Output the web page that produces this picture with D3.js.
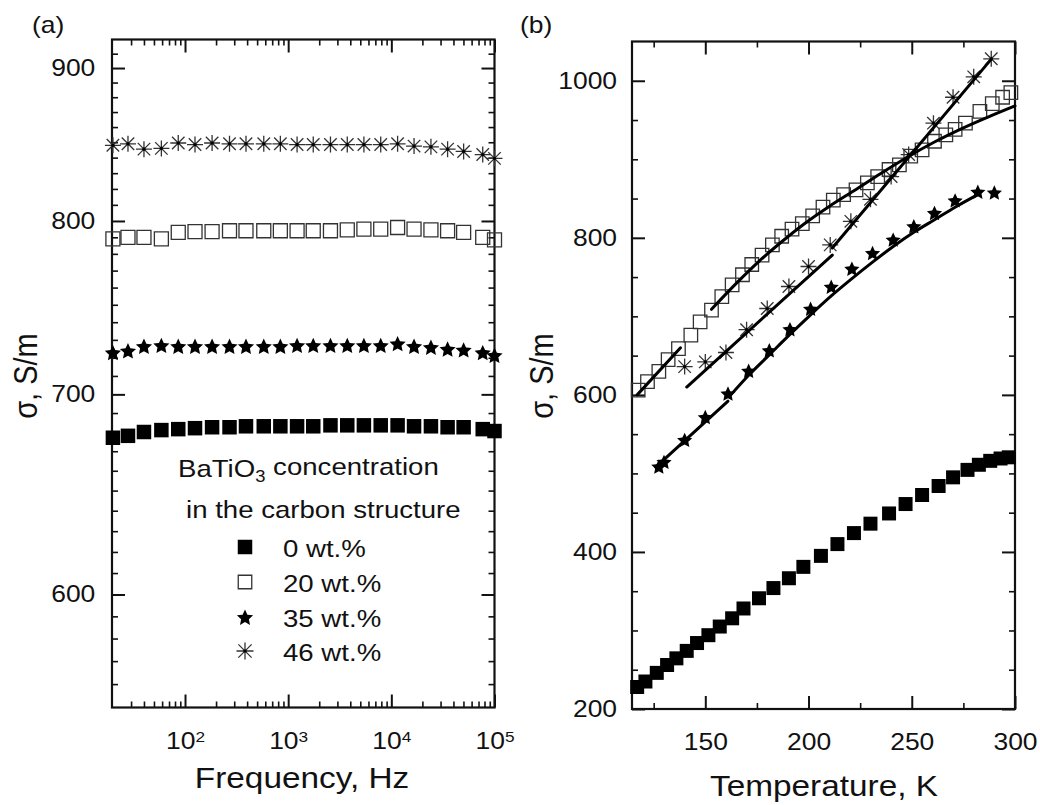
<!DOCTYPE html>
<html>
<head>
<meta charset="utf-8">
<script src="https://cdn.jsdelivr.net/npm/d3@7"></script>
<style>
  body { margin: 0; background: #fff; }
  text { font-family: "Liberation Sans", Arial, sans-serif; fill: #111; }
</style>
</head>
<body>
<svg id="chart" width="1040" height="805"></svg>
<script>
// --- (a) conductivity vs frequency ---
const freq = [20, 28, 40, 59, 86, 125, 183, 270, 390, 580, 840, 1220, 1750, 2570, 3740, 5420,
              7890, 11500, 16600, 24200, 35100, 50200, 76900, 100000];
const sigF0  = [677, 678, 680, 681, 681.5, 682, 682.5, 682.5, 683, 683, 683, 683, 683, 683.5, 683.5, 683.5,
                683.5, 683.5, 683, 683, 682.5, 682.5, 681.5, 680.5];
const sigF20 = [789, 790, 790, 789, 793, 793.5, 793.5, 794, 794, 794, 794, 794, 794, 794, 794.5, 795,
                795, 796, 795, 794.5, 794, 793, 790, 788.5];
const sigF35 = [723, 724, 726.5, 727, 726.5, 726.5, 726.5, 726.5, 726.5, 726.5, 726.5, 727, 727, 727, 727, 727,
                727, 728, 726.5, 726, 725, 724.5, 723, 721.5];
const sigF46 = [848, 849, 845.5, 846, 849.5, 848.5, 849.5, 849, 849, 849, 849, 848.5, 848.5, 848.5, 848.5, 848.5,
                848.5, 849, 847.5, 847, 845.5, 844, 842, 839.5];

// --- (b) conductivity vs temperature ---
const temp0 = [117, 121, 126.5, 131.5, 136, 141, 146, 151.5, 157, 163, 168.5, 176, 183, 190.5, 197.5, 206,
               214, 222, 230, 239, 247, 255, 263, 270, 277, 282.5, 288, 293, 297];
const sigT0 = [228, 235, 246, 256, 264.5, 274, 284, 294, 305, 315.5, 328, 341, 354, 366.5, 381, 395,
               410, 424, 436, 449, 461, 472.5, 484, 495, 504.5, 511, 516, 519, 520.5];
const temp20 = [117.5, 122, 127.5, 132, 137, 143, 147.5, 153, 158, 163, 168, 172.5, 177.5, 182.5, 187, 192,
                197, 202, 207, 212, 217, 223, 228.5, 233.5, 239, 244, 249.5, 255, 261, 266.5, 271, 276,
                283, 289, 294, 298];
const sigT20 = [606, 617, 630, 645, 659, 676, 693, 708, 725, 740, 753, 766, 778, 791, 802, 811,
                818, 828, 839, 848, 855, 861, 870, 878, 887, 893, 904, 912, 923, 931, 938, 946,
                961, 971, 979, 985];
const temp35 = [127.5, 130, 140, 150, 161, 171, 181, 191, 201, 211, 221, 231, 241, 251, 261, 271, 282, 290];
const sigT35 = [509, 515, 543, 572, 602, 631, 657, 684, 710, 738, 761, 781, 798, 815, 832, 848, 859, 858];
const temp46 = [140, 150, 160, 170, 180, 190.5, 200, 210.5, 220.5, 230, 240, 248.5, 260.5, 270, 280, 288.5];
const sigT46 = [636, 642, 654, 683, 710, 738, 763.5, 791, 821, 849, 878, 906, 946, 979, 1005, 1028];

// fitted segments [T, sigma]
const fit20a = [[117, 600], [138, 660]];
const fit20b = [[153, 709], [165, 742], [176, 770], [187, 795], [198, 818], [210, 840], [222, 860],
                [235, 882], [248, 903], [261, 922], [275, 940], [288, 955], [300, 968]];
const fit35a = [[126, 508], [161, 592]];
const fit35b = [[162, 599], [171, 625], [181, 651], [191, 677], [201, 702], [211, 726], [221, 748],
                [231, 769], [241, 789], [251, 807], [261, 823], [271, 839], [282, 855]];
const fit46a = [[141, 610], [211.5, 778]];
const fit46b = [[211.5, 787], [288, 1026]];

const legendLabels = ["0 wt.%", "20 wt.%", "35 wt.%", "46 wt.%"];

const SX = 1.15;   // glyphs in the picture are slightly wide
const svg = d3.select("#chart");

const xF = d3.scaleLog().domain([19.6, 1e5]).range([112, 494.5]);
const yF = d3.scaleLog().domain([550, 920]).range([707.5, 39.5]);
const xT = d3.scaleLinear().domain([114.5, 300]).range([632, 1015]);
const yT = d3.scaleLinear().domain([200, 1050]).range([709, 41.5]);

// minor tick positions
const minorF = [];
[10, 100, 1000, 10000].forEach(d => d3.range(2, 10).forEach(k => { if (d * k > 21) minorF.push(d * k); }));
const minorFy = d3.range(560, 920, 10).filter(v => v % 100 !== 0);
const minorTx = [125, 175, 225, 275];
const minorTy = d3.range(250, 1050, 50).filter(v => v % 200 !== 0);

function axis(gen, tx, ty, vals, len, fmt, pad, sw) {
  const g = svg.append("g").attr("transform", `translate(${tx},${ty})`)
    .call(gen.tickValues(vals).tickSizeInner(-len).tickSizeOuter(0).tickPadding(pad).tickFormat(fmt));
  g.select(".domain").remove();
  g.attr("font-size", 23).attr("font-family", null);
  g.selectAll("line").attr("stroke", "#111").attr("stroke-width", sw);
  g.selectAll("text").attr("transform", `scale(${SX},1)`);
  return g;
}

function panel(x, y, xMaj, xMin, yMaj, yMin, xFmt, yPad) {
  const [l, r] = x.range(), [b, t] = y.range();
  const none = () => "";
  const gx = axis(d3.axisBottom(x), 0, b, xMaj, 13, xFmt, 25, 2);
  axis(d3.axisBottom(x), 0, b, xMin, 6, none, 0, 1.6);
  axis(d3.axisTop(x), 0, t, xMaj, 13, none, 0, 2);
  axis(d3.axisTop(x), 0, t, xMin, 6, none, 0, 1.6);
  axis(d3.axisLeft(y), l, 0, yMaj, 13, d3.format("d"), yPad, 2);
  axis(d3.axisLeft(y), l, 0, yMin, 6, none, 0, 1.6);
  axis(d3.axisRight(y), r, 0, yMaj, 13, none, 0, 2);
  axis(d3.axisRight(y), r, 0, yMin, 6, none, 0, 1.6);
  svg.append("rect").attr("x", l).attr("y", t).attr("width", r - l).attr("height", b - t)
    .attr("fill", "none").attr("stroke", "#111").attr("stroke-width", 2.2);
  return gx;
}

const gxF = panel(xF, yF, [100, 1000, 10000, 100000], minorF, [600, 700, 800, 900], minorFy, d3.format("d"), 14.5);
gxF.selectAll(".tick text").each(function (d) {
  const t = d3.select(this).text("10");
  t.append("tspan").attr("dy", "-0.45em").attr("font-size", 15).text(Math.round(Math.log10(d)));
});
panel(xT, yT, [150, 200, 250, 300], minorTx, [200, 400, 600, 800, 1000], minorTy, d3.format("d"), 13);

// markers
const sq = d3.symbol(d3.symbolSquare);
function starPath(r) {
  const pts = d3.range(10).map(i => {
    const a = -Math.PI / 2 + i * Math.PI / 5, rr = i % 2 ? r * 0.48 : r;
    return [rr * Math.cos(a), rr * Math.sin(a)];
  });
  return "M" + pts.join("L") + "Z";
}
function asterisk(r) {
  const a = r * 0.78;
  return `M0,${-r}V${r}M${-r},0H${r}M${-a},${-a}L${a},${a}M${-a},${a}L${a},${-a}`;
}
const markers = [
  (g, s) => g.append("path").attr("d", sq.size(s * s)()).attr("fill", "#000"),
  (g, s) => g.append("path").attr("d", sq.size(s * s)()).attr("fill", "none").attr("stroke", "#333").attr("stroke-width", 1.3),
  (g, s) => g.append("path").attr("d", starPath(s / 2)).attr("fill", "#000").attr("transform", "translate(0,1)"),
  (g, s) => { g.append("path").attr("d", asterisk(s / 2)).attr("stroke", "#333").attr("stroke-width", 1.3).attr("fill", "none");
              g.append("circle").attr("r", 1.6).attr("fill", "#000"); }
];
function scatter(xs, ys, x, y, kind, s) {
  xs.forEach((v, i) => {
    const g = svg.append("g").attr("transform", `translate(${x(v)},${y(ys[i])})`);
    markers[kind](g, s);
  });
}

// (a)
scatter(freq, sigF0, xF, yF, 0, 14.5);
scatter(freq, sigF20, xF, yF, 1, 14);
scatter(freq, sigF35, xF, yF, 2, 17);
scatter(freq, sigF46, xF, yF, 3, 16);

// (b)
scatter(temp0, sigT0, xT, yT, 0, 14);
scatter(temp20, sigT20, xT, yT, 1, 13.5);
scatter(temp35, sigT35, xT, yT, 2, 16);
scatter(temp46, sigT46, xT, yT, 3, 16);

const line = d3.line().x(d => xT(d[0])).y(d => yT(d[1])).curve(d3.curveMonotoneX);
[fit20a, fit20b, fit35a, fit35b, fit46a, fit46b].forEach(f =>
  svg.append("path").attr("d", line(f)).attr("fill", "none").attr("stroke", "#000")
    .attr("stroke-width", 3).attr("stroke-linecap", "round"));

// text helper
function label(x, y, str, size, anchor, rot) {
  return svg.append("text")
    .attr("transform", `translate(${x},${y}) scale(${SX},1)` + (rot ? " rotate(-90)" : ""))
    .attr("font-size", size).attr("text-anchor", anchor || "start").text(str);
}

label(32, 33, "(a)", 23);
label(520, 33, "(b)", 23);
label(302, 788, "Frequency, Hz", 29, "middle");
label(824, 796, "Temperature, K", 29, "middle");
label(37, 376, "σ, S/m", 29, "middle", true);
label(553, 376, "σ, S/m", 29, "middle", true);

// legend
const lt = label(178, 477, "BaTiO", 24);
lt.append("tspan").attr("font-size", 16).attr("dy", "0.3em").text("3");
lt.append("tspan").attr("dy", "-0.3em").text(" concentration");
label(186, 518, "in the carbon structure", 24);
const legY = [547, 582, 617, 651];
const legS = [14.5, 13.5, 17, 17];
legendLabels.forEach((t, i) => {
  const g = svg.append("g").attr("transform", `translate(245,${legY[i]})`);
  markers[i](g, legS[i]);
  label(283, legY[i] + 9.5, t, 24);
});
</script>
</body>
</html>
